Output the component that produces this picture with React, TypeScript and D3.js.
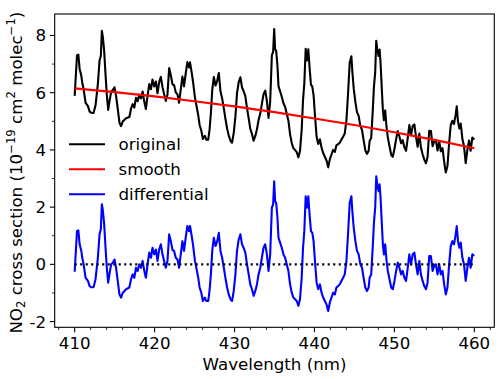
import React from "react";
import * as d3 from "d3";

// wavelength grid (nm) shared by the original and differential spectra
const wavelengths = [
  410.0, 410.29, 410.46, 410.62, 410.83, 410.95, 411.12, 411.37, 411.66, 411.87,
  412.07, 412.36, 412.61, 412.9, 413.11, 413.27, 413.4, 413.52, 413.69, 413.86,
  414.02, 414.19, 414.35, 414.56, 414.77, 414.98, 415.18, 415.39, 415.6, 415.8,
  416.01, 416.43, 416.84, 417.05, 417.26, 417.46, 417.67, 417.88, 418.08, 418.29,
  418.5, 418.71, 418.91, 419.12, 419.33, 419.54, 419.74, 419.95, 420.16, 420.36,
  420.57, 420.78, 420.99, 421.19, 421.4, 421.61, 421.82, 422.03, 422.24, 422.44,
  422.65, 422.86, 423.06, 423.27, 423.48, 423.68, 423.89, 424.1, 424.3, 424.43,
  424.64, 424.8, 425.05, 425.22, 425.46, 425.63, 425.84, 426.04, 426.29, 426.46,
  426.71, 426.87, 427.04, 427.21, 427.41, 427.62, 427.83, 428.03, 428.24, 428.45,
  428.66, 428.86, 429.07, 429.28, 429.49, 429.69, 429.9, 430.11, 430.31, 430.52,
  430.73, 430.94, 431.14, 431.35, 431.56, 431.77, 431.97, 432.18, 432.39, 432.6,
  432.8, 433.01, 433.22, 433.42, 433.63, 433.84, 434.05, 434.25, 434.46, 434.67,
  434.83, 434.96, 435.08, 435.21, 435.37, 435.5, 435.7, 435.91, 436.12, 436.33,
  436.53, 436.74, 436.95, 437.16, 437.36, 437.57, 437.78, 437.99, 438.19, 438.4,
  438.57, 438.73, 438.9, 439.06, 439.23, 439.39, 439.56, 439.73, 439.89, 440.06,
  440.27, 440.47, 440.68, 440.89, 441.09, 441.3, 441.51, 441.72, 441.92, 442.13,
  442.34, 442.55, 442.75, 442.96, 443.17, 443.37, 443.58, 443.79, 444.0, 444.2,
  444.41, 444.62, 444.74, 444.91, 445.12, 445.32, 445.53, 445.74, 445.95, 446.15,
  446.36, 446.57, 446.78, 446.9, 447.1, 447.31, 447.44, 447.6, 447.73, 447.85,
  448.02, 448.15, 448.27, 448.43, 448.56, 448.69, 448.85, 449.02, 449.18, 449.39,
  449.6, 449.8, 450.01, 450.22, 450.42, 450.63, 450.84, 451.04, 451.25, 451.46,
  451.67, 451.87, 452.08, 452.29, 452.5, 452.7, 452.91, 453.12, 453.32, 453.53,
  453.74, 453.95, 454.15, 454.36, 454.57, 454.78, 454.98, 455.19, 455.4, 455.61,
  455.81, 456.02, 456.23, 456.43, 456.64, 456.85, 457.05, 457.26, 457.46, 457.67,
  457.8, 457.96, 458.13, 458.3, 458.51, 458.71, 458.92, 459.13, 459.34, 459.54,
  459.75, 460.0,
];

// original cross section (1e-19 cm2/molec)
const original = [
  5.89, 7.3, 7.33, 6.83, 6.59, 6.35, 6.12, 5.64, 5.53, 5.34,
  5.3, 5.29, 5.56, 6.3, 7.12, 7.28, 8.16, 7.96, 7.45, 6.63,
  5.93, 5.4, 5.69, 6.03, 6.09, 6.19, 5.89, 5.43, 4.95, 4.83,
  4.99, 5.11, 5.15, 5.44, 5.6, 5.48, 5.82, 5.7, 5.93, 5.8,
  6.04, 5.68, 5.43, 5.9, 6.3, 6.12, 6.46, 6.22, 6.39, 5.98,
  6.37, 6.55, 6.19, 5.95, 5.71, 5.94, 6.86, 6.61, 6.29, 6.26,
  6.01, 5.94, 5.65, 6.11, 6.56, 6.22, 6.67, 7.07, 6.88, 7.06,
  6.7, 6.4, 5.82, 5.57, 5.21, 4.87, 4.68, 4.38, 4.49, 4.36,
  4.36, 4.7, 5.28, 6.09, 6.55, 6.25, 6.41, 6.69, 6.05, 5.8,
  5.45, 5.09, 4.75, 4.5, 4.32, 4.25, 4.59, 5.17, 5.98, 6.37,
  6.54, 6.18, 6.05, 5.88, 5.46, 5.1, 4.74, 4.56, 4.32, 4.49,
  4.71, 5.05, 5.27, 5.61, 5.95, 6.07, 5.71, 5.12, 5.69, 7.31,
  7.43, 8.22, 7.52, 7.46, 6.94, 6.23, 6.05, 5.86, 5.63, 5.5,
  5.26, 5.02, 4.54, 4.24, 4.06, 3.99, 3.92, 3.74, 3.96, 4.7,
  5.75, 6.32, 7.53, 7.13, 7.52, 6.87, 6.28, 6.21, 5.91, 5.22,
  4.45, 4.21, 4.37, 4.07, 3.89, 3.76, 3.63, 3.39, 3.67, 3.84,
  4.0, 3.93, 4.16, 4.2, 4.25, 4.36, 4.46, 4.57, 5.04, 5.96,
  7.05, 7.27, 6.74, 6.15, 5.67, 5.32, 5.19, 4.83, 4.7, 4.34,
  3.99, 3.86, 3.97, 4.31, 4.42, 5.45, 6.2, 6.72, 7.81, 7.53,
  7.28, 7.51, 7.04, 6.1, 5.39, 5.04, 5.38, 4.79, 4.43, 4.13,
  3.83, 3.76, 4.04, 4.38, 4.66, 4.47, 4.23, 4.34, 4.09, 3.97,
  4.42, 4.87, 4.51, 4.84, 4.89, 4.47, 4.11, 4.57, 4.09, 3.85,
  3.66, 3.53, 3.75, 4.67, 4.66, 4.13, 4.29, 4.34, 3.98, 4.31,
  3.95, 4.06, 3.58, 3.21, 3.44, 4.24, 4.87, 5.02, 4.9, 5.24,
  5.52, 4.99, 4.75, 4.92, 4.38, 4.14, 3.54, 3.99, 4.33, 3.97,
  4.43, 4.36,
];

// differential cross section (original minus smooth)
const differential = [
  -0.26, 1.16, 1.19, 0.7, 0.47, 0.23, 0.0, -0.47, -0.58, -0.76,
  -0.8, -0.8, -0.52, 0.23, 1.05, 1.22, 2.1, 1.9, 1.4, 0.58,
  -0.12, -0.64, -0.35, 0.0, 0.06, 0.17, -0.12, -0.58, -1.05, -1.16,
  -1.0, -0.87, -0.81, -0.52, -0.35, -0.47, -0.12, -0.23, 0.0, -0.12,
  0.12, -0.23, -0.47, 0.0, 0.41, 0.23, 0.58, 0.35, 0.52, 0.12,
  0.52, 0.7, 0.35, 0.12, -0.12, 0.12, 1.05, 0.81, 0.5, 0.47,
  0.23, 0.17, -0.12, 0.35, 0.81, 0.47, 0.93, 1.34, 1.16, 1.34,
  0.99, 0.7, 0.12, -0.12, -0.47, -0.81, -0.99, -1.28, -1.16, -1.28,
  -1.28, -0.93, -0.35, 0.47, 0.93, 0.64, 0.81, 1.1, 0.47, 0.23,
  -0.12, -0.47, -0.81, -1.05, -1.22, -1.28, -0.93, -0.35, 0.47, 0.87,
  1.05, 0.7, 0.58, 0.41, 0.0, -0.35, -0.7, -0.87, -1.1, -0.93,
  -0.7, -0.35, -0.12, 0.23, 0.58, 0.7, 0.35, -0.23, 0.35, 1.98,
  2.1, 2.9, 2.2, 2.15, 1.63, 0.93, 0.76, 0.58, 0.35, 0.23,
  0.0, -0.23, -0.7, -0.99, -1.16, -1.22, -1.28, -1.45, -1.22, -0.47,
  0.58, 1.16, 2.38, 1.98, 2.38, 1.74, 1.16, 1.1, 0.81, 0.12,
  -0.64, -0.87, -0.7, -0.99, -1.16, -1.28, -1.4, -1.63, -1.34, -1.16,
  -0.99, -1.05, -0.81, -0.76, -0.7, -0.58, -0.47, -0.35, 0.12, 1.05,
  2.15, 2.38, 1.86, 1.28, 0.81, 0.47, 0.35, 0.0, -0.12, -0.47,
  -0.81, -0.93, -0.81, -0.47, -0.35, 0.7, 1.45, 1.98, 3.08, 2.8,
  2.56, 2.8, 2.33, 1.4, 0.7, 0.35, 0.7, 0.12, -0.23, -0.52,
  -0.81, -0.87, -0.58, -0.23, 0.06, -0.12, -0.35, -0.23, -0.47, -0.58,
  -0.12, 0.35, 0.0, 0.35, 0.41, 0.0, -0.35, 0.12, -0.35, -0.58,
  -0.76, -0.87, -0.64, 0.29, 0.29, -0.23, -0.06, 0.0, -0.35, 0.0,
  -0.35, -0.23, -0.7, -1.05, -0.81, 0.0, 0.64, 0.81, 0.7, 1.05,
  1.34, 0.81, 0.58, 0.76, 0.23, 0.0, -0.58, -0.12, 0.23, -0.12,
  0.35, 0.3,
];

// smooth (low-order polynomial) component
const smoothWavelengths = [410, 415, 420, 425, 430, 435, 440, 445, 450, 455, 460];
const smooth = [6.15, 6.02, 5.87, 5.7, 5.52, 5.32, 5.1, 4.87, 4.62, 4.35, 4.06];

const xTicks = [410, 420, 430, 440, 450, 460];
const yTicks = [-2, 0, 2, 4, 6, 8];
const legendItems = [
  { label: "original", color: "black" },
  { label: "smooth", color: "red" },
  { label: "differential", color: "blue" },
];

const W = 500;
const H = 379;
const left = 54.7, right = 494.3, top = 14, bottom = 327.3;
const FONT = "DejaVu Sans, sans-serif";
const FS = 16.67;

export default function App() {
  const x = d3.scaleLinear().domain([407.5, 462.5]).range([left, right]);
  const y = d3.scaleLinear().domain([-2.2, 8.75]).range([bottom, top]);

  const line = d3.line<[number, number]>()
    .x((d) => x(d[0]))
    .y((d) => y(d[1]));

  const origPath = line(wavelengths.map((w, i) => [w, original[i]]));
  const diffPath = line(wavelengths.map((w, i) => [w, differential[i]]));
  const smoothPath = d3.line<[number, number]>()
    .x((d) => x(d[0]))
    .y((d) => y(d[1]))
    .curve(d3.curveMonotoneX)(smoothWavelengths.map((w, i) => [w, smooth[i]]));

  const xMinor = d3.range(408, 463, 2).filter((v) => v % 10 !== 0);
  const yMinor = d3.range(-1, 9, 2);
  const x0 = wavelengths[0];
  const x1 = wavelengths[wavelengths.length - 1];

  return (
    <svg width={W} height={H} style={{ position: "absolute", left: 0, top: 0, background: "white" }}
      fontFamily={FONT}>
      <rect width={W} height={H} fill="white" />

      <path d={origPath || ""} fill="none" stroke="black" strokeWidth={2.1} strokeLinejoin="round" />
      <path d={smoothPath || ""} fill="none" stroke="red" strokeWidth={2.1} />
      <path d={diffPath || ""} fill="none" stroke="blue" strokeWidth={2.1} strokeLinejoin="round" />
      <line x1={x(x0)} x2={x(x1)} y1={y(0)} y2={y(0)} stroke="black" strokeWidth={2.1}
        strokeDasharray="2.1,3.4" />

      {/* axes frame */}
      <rect x={left} y={top} width={right - left} height={bottom - top} fill="none" stroke="black" strokeWidth={1.1} />

      {/* x ticks */}
      {xTicks.map((t) => (
        <g key={"xt" + t}>
          <line x1={x(t)} x2={x(t)} y1={bottom} y2={bottom + 4.9} stroke="black" strokeWidth={1.1} />
          <text x={x(t)} y={bottom + 22} fontSize={FS} textAnchor="middle">{t}</text>
        </g>
      ))}
      {xMinor.map((t) => (
        <line key={"xm" + t} x1={x(t)} x2={x(t)} y1={bottom} y2={bottom + 2.8} stroke="black" strokeWidth={0.8} />
      ))}

      {/* y ticks */}
      {yTicks.map((t) => (
        <g key={"yt" + t}>
          <line x1={left - 4.9} x2={left} y1={y(t)} y2={y(t)} stroke="black" strokeWidth={1.1} />
          <text x={left - 8.5} y={y(t)} dy="0.36em" fontSize={FS} textAnchor="end">{String(t)}</text>
        </g>
      ))}
      {yMinor.map((t) => (
        <line key={"ym" + t} x1={left - 2.8} x2={left} y1={y(t)} y2={y(t)} stroke="black" strokeWidth={0.8} />
      ))}

      {/* axis labels */}
      <text x={(left + right) / 2} y={370} fontSize={FS} textAnchor="middle">Wavelength (nm)</text>
      <text transform={`translate(22, ${(top + bottom) / 2 + 2}) rotate(-90)`} fontSize={FS} textAnchor="middle">
        NO<tspan fontSize={FS * 0.7} dy="3">2</tspan>
        <tspan dy="-3"> cross section (10</tspan>
        <tspan fontSize={FS * 0.7} dy="-7">−19</tspan>
        <tspan dy="7"> cm</tspan>
        <tspan fontSize={FS * 0.7} dy="-7">2</tspan>
        <tspan dy="7"> molec</tspan>
        <tspan fontSize={FS * 0.7} dy="-7">−1</tspan>
        <tspan dy="7">)</tspan>
      </text>

      {/* legend */}
      {legendItems.map((d, i) => {
        const ly = 144.3 + i * 25;
        return (
          <g key={d.label}>
            <line x1={69} x2={105} y1={ly} y2={ly} stroke={d.color} strokeWidth={2.1} />
            <text x={118.5} y={ly} dy="0.36em" fontSize={FS}>{d.label}</text>
          </g>
        );
      })}
    </svg>
  );
}
